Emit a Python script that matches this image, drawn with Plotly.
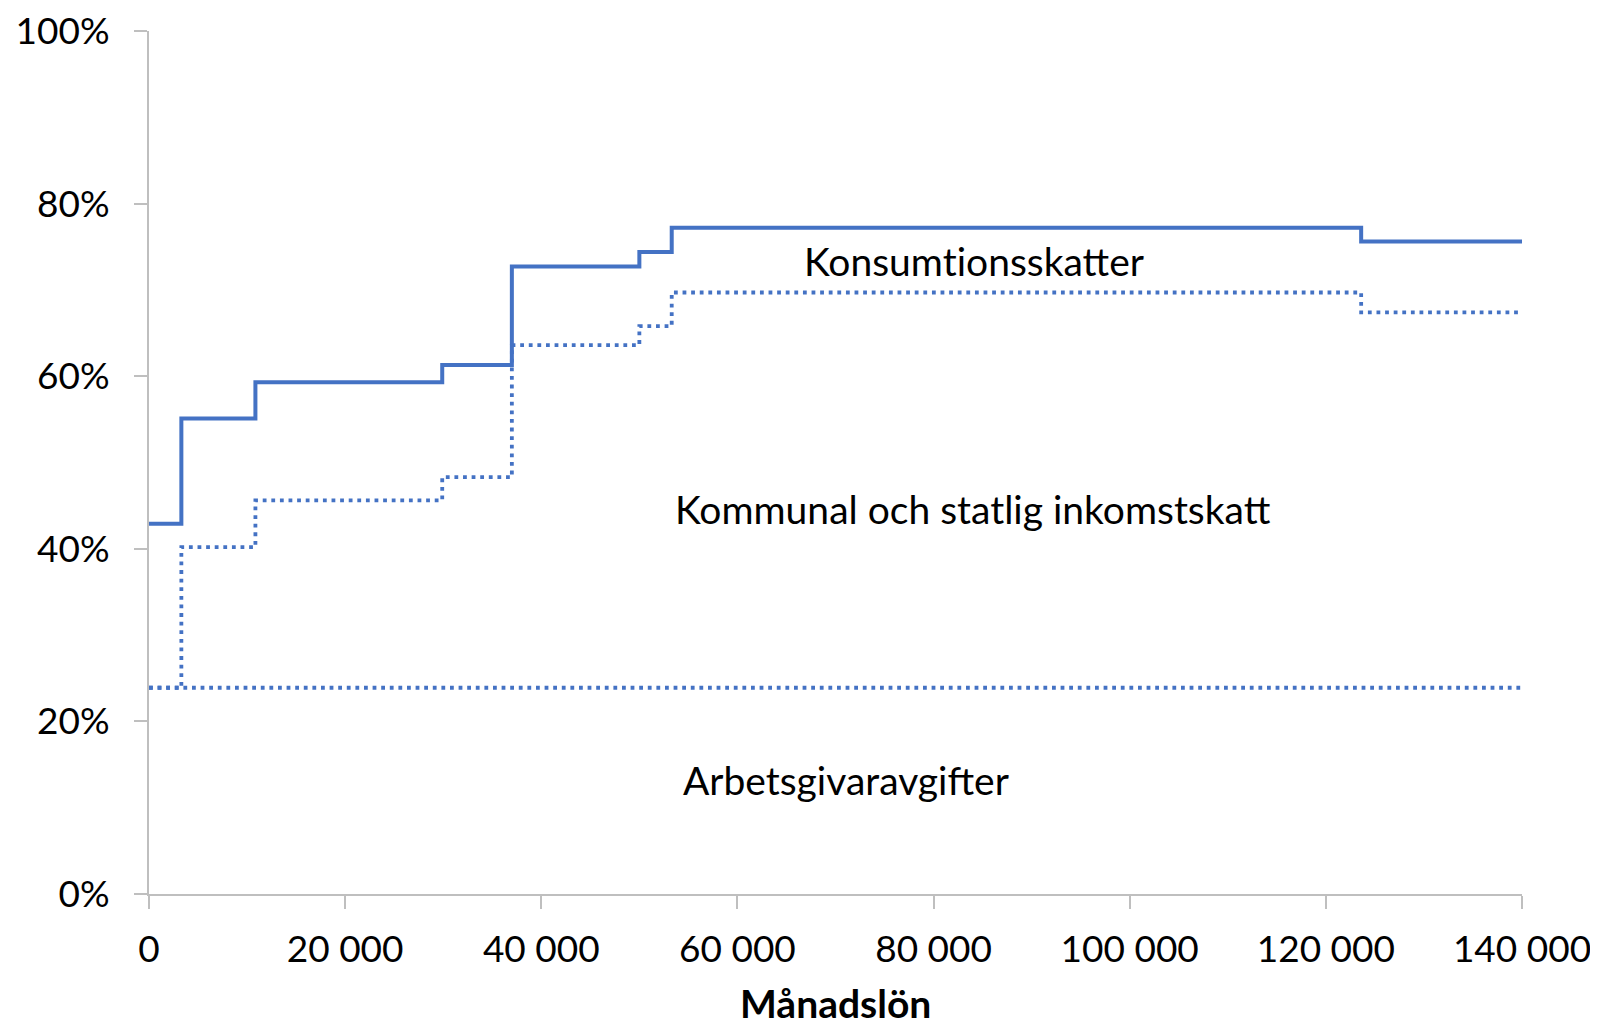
import plotly.graph_objects as go

# Månadslön där skattesatserna ändras (kr)
manadslon = [0, 3300, 10850, 29900, 37000, 50000, 53300, 123600, 140000]
# Total skattekil inkl. konsumtionsskatter
total_skatt = [0.429, 0.551, 0.593, 0.613, 0.727, 0.744, 0.772, 0.756, 0.756]
# Arbetsgivaravgifter + kommunal och statlig inkomstskatt
inkomstskatt = [0.239, 0.402, 0.456, 0.483, 0.636, 0.658, 0.697, 0.674, 0.674]
# Arbetsgivaravgifter (konstant)
avgift_x = [0, 140000]
avgift_y = [0.239, 0.239]

x_ticks = [0, 20000, 40000, 60000, 80000, 100000, 120000, 140000]
x_ticktext = ["0", "20 000", "40 000", "60 000", "80 000", "100 000", "120 000", "140 000"]
y_ticks = [0, 0.2, 0.4, 0.6, 0.8, 1.0]
y_ticktext = ["0%", "20%", "40%", "60%", "80%", "100%"]

# \u200c hindrar Lato från att slå ihop "ti" till en ligatur
etiketter = ["Konsumt\u200cionsskatter", "Kommunal och statlig inkomstskatt", "Arbetsgivaravgifter"]
x_titel = "Månadslön"

BLUE = "#4472C4"
AXIS = "#BFBFBF"
FONT = "Lato"
DOT = "3.8px,4.8px"

fig = go.Figure()
fig.add_trace(go.Scatter(
    x=manadslon, y=total_skatt, mode="lines", line_shape="hv",
    line=dict(color=BLUE, width=4), showlegend=False, hoverinfo="skip",
))
fig.add_trace(go.Scatter(
    x=manadslon, y=inkomstskatt, mode="lines", line_shape="hv",
    line=dict(color=BLUE, width=3.8, dash=DOT), showlegend=False, hoverinfo="skip",
))
fig.add_trace(go.Scatter(
    x=avgift_x, y=avgift_y, mode="lines",
    line=dict(color=BLUE, width=3.8, dash=DOT), showlegend=False, hoverinfo="skip",
))

# textetiketter i diagrammet
for txt, (ax, ay) in zip(etiketter, [(84100, 0.733), (84000, 0.446), (71050, 0.132)]):
    fig.add_annotation(x=ax, y=ay, text=txt, showarrow=False,
                       font=dict(family=FONT, size=39, color="black"),
                       xanchor="center", yanchor="middle")

# axeltiteln som annotation (standoff ignoreras utan automargin)
fig.add_annotation(x=0.5, y=-0.126, xref="paper", yref="paper", text=f"<b>{x_titel}</b>",
                   showarrow=False, font=dict(family=FONT, size=39, color="black"),
                   xanchor="center", yanchor="middle")

# sidan har 8 px marginal runt figuren, därför något mindre figur
fig.update_layout(
    width=1590, height=1019,
    margin=dict(l=141, r=76, t=23, b=133),
    plot_bgcolor="white", paper_bgcolor="white",
    font=dict(family=FONT, size=37, color="black"),
    xaxis=dict(
        range=[0, 140000], tickvals=x_ticks, ticktext=x_ticktext,
        automargin=False, ticklabeloverflow="allow",
        showgrid=False, zeroline=False, showline=True, linecolor=AXIS, linewidth=2,
        ticks="outside", ticklen=13, tickcolor=AXIS, tickwidth=2,
        ticklabelstandoff=9,
    ),
    yaxis=dict(
        range=[0, 1], tickvals=y_ticks, ticktext=y_ticktext,
        automargin=False, ticklabeloverflow="allow",
        showgrid=False, zeroline=False, showline=True, linecolor=AXIS, linewidth=2,
        ticks="outside", ticklen=13, tickcolor=AXIS, tickwidth=2,
        ticklabelstandoff=17,
    ),
)

fig.write_html("out.html")
